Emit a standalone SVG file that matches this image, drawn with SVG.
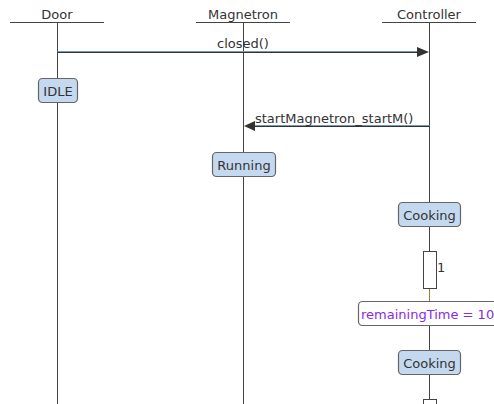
<svg xmlns="http://www.w3.org/2000/svg" width="494" height="404" viewBox="0 0 494 404">
<defs>
<style>
text{font-family:"DejaVu Sans","Liberation Sans",sans-serif;font-size:13px;fill:#333}
.hd{stroke:#444;stroke-width:1}
.life{stroke:#444;stroke-width:1}
.st{fill:#c4d9ef;stroke:#666;stroke-width:1.2}
.msgA{stroke:#6f9cb8;stroke-width:1}
.msgB{stroke:#333;stroke-width:1}
.arr{fill:#333}
</style>
</defs>
<rect width="494" height="404" fill="#fff"/>
<g id="lifelines">
<line class="life" x1="57.5" y1="22" x2="57.5" y2="404"/>
<line class="life" x1="243.5" y1="22" x2="243.5" y2="404"/>
<line class="life" x1="429.5" y1="22" x2="429.5" y2="404"/>
<line x1="429.5" y1="289" x2="429.5" y2="301" stroke="#a07a30" stroke-width="1"/>
</g>
<g id="door">
<line class="hd" x1="10" y1="22.5" x2="104" y2="22.5"/>
<text x="57" y="19" text-anchor="middle">Door</text>
</g>
<g id="magnetron">
<line class="hd" x1="196" y1="22.5" x2="290" y2="22.5"/>
<text x="243" y="19" text-anchor="middle">Magnetron</text>
</g>
<g id="controller">
<line class="hd" x1="382" y1="22.5" x2="476" y2="22.5"/>
<text x="429" y="19" text-anchor="middle">Controller</text>
</g>
<g id="connectors">
<line class="msgA" x1="57.5" y1="51.5" x2="420" y2="51.5"/>
<line class="msgB" x1="57.5" y1="52.5" x2="420" y2="52.5"/>
<polygon class="arr" points="417,47 429,52 417,57"/>
<text x="243" y="48" text-anchor="middle">closed()</text>
<line class="msgA" x1="252" y1="125.5" x2="429.5" y2="125.5"/>
<line class="msgB" x1="252" y1="126.5" x2="429.5" y2="126.5"/>
<polygon class="arr" points="255,121 244,126 255,131"/>
<text x="255" y="123">startMagnetron_startM()</text>
</g>
<g id="idle">
<rect class="st" x="38.5" y="78.5" width="39" height="24" rx="4"/>
<text x="58" y="96" text-anchor="middle">IDLE</text>
</g>
<g id="running">
<rect class="st" x="212.5" y="152.5" width="63" height="24" rx="4"/>
<text x="244" y="170" text-anchor="middle">Running</text>
</g>
<g id="cooking1">
<rect class="st" x="398.5" y="202.5" width="62" height="24" rx="4"/>
<text x="429.5" y="220" text-anchor="middle">Cooking</text>
</g>
<g id="activation1">
<rect x="423.5" y="251.5" width="13" height="37" fill="#fff" stroke="#444" stroke-width="1"/>
<text x="437" y="272">1</text>
</g>
<g id="remaining">
<rect x="358.5" y="301.5" width="150" height="24" rx="4" fill="#fff" stroke="#666" stroke-width="1.2"/>
<text x="361" y="319" style="fill:#8a2be2">remainingTime = 10</text>
</g>
<g id="cooking2">
<rect class="st" x="398.5" y="350.5" width="62" height="24" rx="4"/>
<text x="429.5" y="368" text-anchor="middle">Cooking</text>
</g>
<g id="activation2">
<rect x="423.5" y="399.5" width="13" height="20" fill="#fff" stroke="#444" stroke-width="1"/>
</g>
</svg>
